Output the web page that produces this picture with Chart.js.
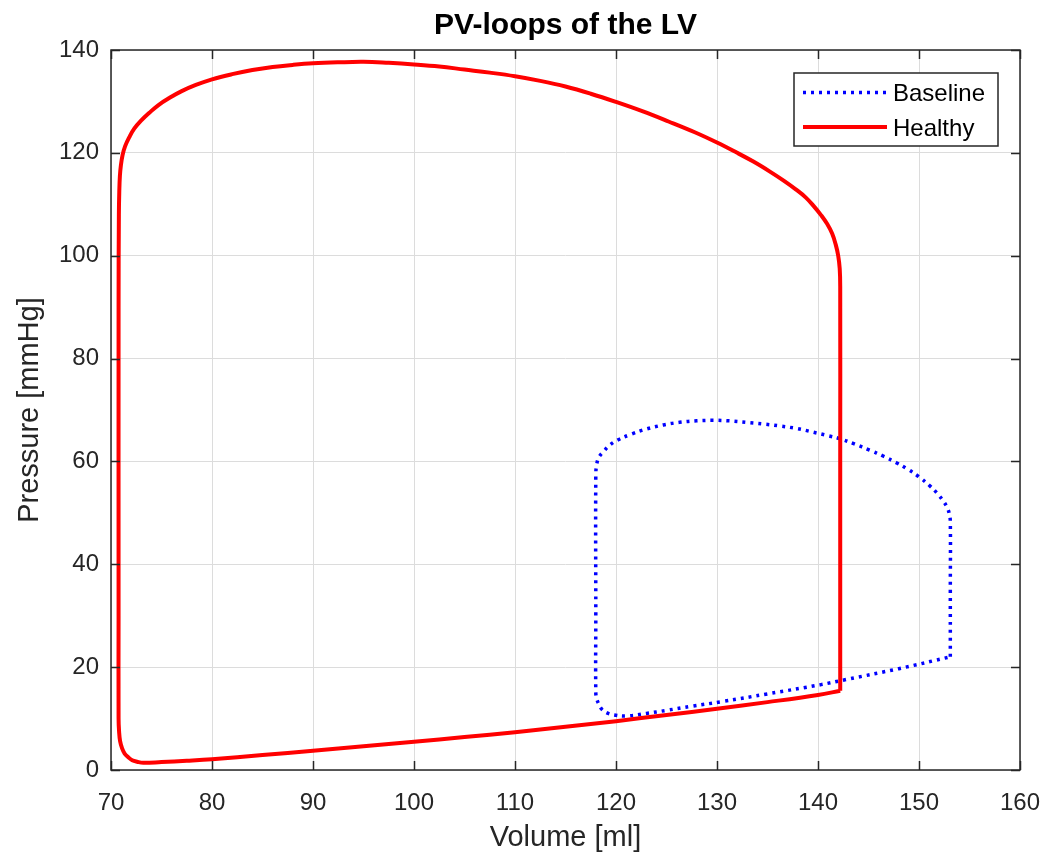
<!DOCTYPE html>
<html>
<head>
<meta charset="utf-8">
<title>PV-loops of the LV</title>
<script src="https://cdn.jsdelivr.net/npm/chart.js@4/dist/chart.umd.min.js"></script>
<style>
  html, body { margin: 0; padding: 0; background: #fff; }
</style>
</head>
<body>
<canvas id="myChart" width="1048" height="856"></canvas>
<script>
// Healthy LV loop, traced from end-diastole up, across ejection, down and along filling
var healthyVolume = [
    142.2, 142.2, 142.2, 142.15, 142.0, 141.75, 141.4, 140.9, 140.3, 139.6,
    138.8, 137.8, 136.6, 135.2, 133.6, 131.9, 130.0, 127.8, 125.2, 122.6,
    120.0, 117.5, 115.0, 112.5, 110.0, 107.5, 105.0, 102.5, 100.0, 97.5,
    95.0, 92.5, 90.0, 88.0, 86.0, 84.0, 82.0, 80.0, 78.4, 77.0,
    75.8, 74.7, 73.8, 73.0, 72.3, 71.8, 71.4, 71.15, 70.98, 70.88,
    70.82, 70.78, 70.75, 70.75, 70.75, 70.8, 70.9, 71.1, 71.35, 71.7,
    72.1, 72.6, 73.2, 75.0, 77.5, 80.0, 85.0, 90.0, 95.0, 100.0,
    105.0, 110.0, 115.0, 120.0, 125.0, 130.0, 135.0, 140.0, 142.2
];
var healthyPressure = [
    15.4, 60.0, 94.0, 97.5, 100.0, 102.2, 104.3, 106.2, 107.9, 109.6,
    111.3, 112.9, 114.6, 116.4, 118.3, 120.1, 122.0, 124.0, 126.1, 128.1,
    129.9, 131.5, 132.9, 134.0, 134.9, 135.6, 136.2, 136.8, 137.2, 137.5,
    137.7, 137.6, 137.4, 137.1, 136.7, 136.1, 135.3, 134.3, 133.2, 132.0,
    130.7, 129.3, 127.8, 126.3, 124.7, 123.0, 121.3, 119.6, 117.6, 115.5,
    112.5, 108.0, 90.0, 30.0, 10.0, 7.5, 5.6, 4.2, 3.2, 2.5,
    1.9, 1.6, 1.4, 1.55, 1.8, 2.1, 2.9, 3.75, 4.6, 5.5,
    6.4, 7.35, 8.4, 9.5, 10.7, 11.9, 13.2, 14.6, 15.4
];

// Baseline loop
var baselineVolume = [
    153.1, 153.1, 153.1, 153.0, 152.8, 152.4, 151.8, 151.1, 150.0, 148.8,
    147.8, 146.5, 145.1, 143.6, 142.2, 141.0, 139.5, 137.9, 136.2, 134.5,
    132.9, 131.2, 129.6, 128.0, 126.3, 124.7, 123.0, 121.5, 120.1, 119.4,
    118.8, 118.3, 118.1, 118.0, 118.0, 118.0, 118.1, 118.3, 118.6, 119.1,
    119.8, 121.0, 123.0, 125.0, 127.5, 130.5, 135.0, 140.3, 142.8, 148.0,
    153.1
];
var baselinePressure = [
    22.0, 35.0, 48.3, 49.8, 51.0, 52.3, 53.8, 55.2, 57.0, 58.6,
    59.7, 61.0, 62.2, 63.4, 64.4, 65.0, 65.7, 66.4, 66.9, 67.3,
    67.6, 67.9, 68.0, 67.9, 67.6, 67.1, 66.3, 65.3, 64.1, 63.2,
    62.0, 60.8, 59.5, 57.5, 30.0, 15.0, 13.8, 12.8, 11.8, 11.1,
    10.7, 10.5, 11.0, 11.6, 12.4, 13.3, 14.8, 16.6, 17.6, 19.7,
    22.0
];

var volumeTicks = { min: 70, max: 160, step: 10 };
var pressureTicks = { min: 0, max: 140, step: 20 };

function toPoints(xs, ys) {
    return xs.map(function (v, i) { return { x: v, y: ys[i] }; });
}

var axisColor = "#262626";
var fontFamily = "'Liberation Sans', Arial, Helvetica, sans-serif";

// box around the axes with inward tick marks on all four sides
var axesBox = {
    id: "axesBox",
    afterDatasetsDraw: function (chart) {
        var ctx = chart.ctx;
        var a = chart.chartArea;
        var xs = chart.scales.x, ys = chart.scales.y;
        var len = 9;
        ctx.save();
        ctx.strokeStyle = axisColor;
        ctx.lineWidth = 1.5;
        ctx.beginPath();
        xs.ticks.forEach(function (t) {
            var px = Math.round(xs.getPixelForValue(t.value)) + 0.5;
            ctx.moveTo(px, a.bottom); ctx.lineTo(px, a.bottom - len);
            ctx.moveTo(px, a.top); ctx.lineTo(px, a.top + len);
        });
        ys.ticks.forEach(function (t) {
            var py = Math.round(ys.getPixelForValue(t.value)) + 0.5;
            ctx.moveTo(a.left, py); ctx.lineTo(a.left + len, py);
            ctx.moveTo(a.right, py); ctx.lineTo(a.right - len, py);
        });
        ctx.stroke();
        ctx.strokeRect(a.left, a.top, a.right - a.left, a.bottom - a.top);
        ctx.restore();
    }
};

// legend in the top right corner of the axes
var boxLegend = {
    id: "boxLegend",
    afterDraw: function (chart) {
        var ctx = chart.ctx;
        var a = chart.chartArea;
        var right = a.right - 22, top = a.top + 23;
        var w = 204, h = 73;
        var left = right - w;
        ctx.save();
        ctx.fillStyle = "#fff";
        ctx.fillRect(left, top, w, h);
        ctx.strokeStyle = axisColor;
        ctx.lineWidth = 1.5;
        ctx.strokeRect(left, top, w, h);
        var items = [chart.data.datasets[1], chart.data.datasets[0]];
        items.forEach(function (ds, i) {
            var y = top + 19.5 + i * 34.5;
            ctx.beginPath();
            ctx.strokeStyle = ds.borderColor;
            ctx.lineWidth = ds.borderWidth;
            ctx.setLineDash(ds.borderDash || []);
            ctx.moveTo(left + 9, y);
            ctx.lineTo(left + 93, y);
            ctx.stroke();
            ctx.setLineDash([]);
            ctx.fillStyle = "#000";
            ctx.font = "24px " + fontFamily;
            ctx.textBaseline = "middle";
            ctx.textAlign = "left";
            ctx.fillText(ds.label, left + 99, y + 2);
        });
        ctx.restore();
    }
};

var ctx = document.getElementById("myChart").getContext("2d");

var myChart = new Chart(ctx, {
    type: "scatter",
    data: {
        datasets: [
            {
                label: "Healthy",
                data: toPoints(healthyVolume, healthyPressure),
                showLine: true,
                borderColor: "#ff0000",
                backgroundColor: "#ff0000",
                borderWidth: 4,
                pointRadius: 0,
                tension: 0.4
            },
            {
                label: "Baseline",
                data: toPoints(baselineVolume, baselinePressure),
                showLine: true,
                borderColor: "#0000ff",
                backgroundColor: "#0000ff",
                borderWidth: 3.5,
                borderDash: [3, 5],
                pointRadius: 0,
                tension: 0.4
            }
        ]
    },
    options: {
        responsive: false,
        animation: false,
        devicePixelRatio: 1,
        layout: { padding: { top: 0, right: 28, left: 0, bottom: 0 } },
        plugins: {
            legend: { display: false },
            tooltip: { enabled: false },
            title: {
                display: true,
                text: "PV-loops of the LV",
                fullSize: false,
                color: "#000",
                font: { family: fontFamily, size: 30, weight: "bold" },
                padding: { top: 8, bottom: 6 }
            }
        },
        scales: {
            x: {
                type: "linear",
                min: volumeTicks.min,
                max: volumeTicks.max,
                afterFit: function (scale) {
                    scale.height = 86;
                    scale.paddingLeft = 0;
                    scale.paddingRight = 0;
                },
                ticks: {
                    stepSize: volumeTicks.step,
                    color: axisColor,
                    padding: 19,
                    font: { family: fontFamily, size: 24 }
                },
                grid: { color: "#dcdcdc", lineWidth: 1, drawTicks: false },
                border: { display: false },
                title: {
                    display: true,
                    text: "Volume [ml]",
                    color: axisColor,
                    font: { family: fontFamily, size: 29 },
                    padding: { top: 0, bottom: 1 }
                }
            },
            y: {
                type: "linear",
                min: pressureTicks.min,
                max: pressureTicks.max,
                afterFit: function (scale) { scale.width = 111; },
                ticks: {
                    stepSize: pressureTicks.step,
                    color: axisColor,
                    padding: 12,
                    font: { family: fontFamily, size: 24 }
                },
                grid: { color: "#dcdcdc", lineWidth: 1, drawTicks: false },
                border: { display: false },
                title: {
                    display: true,
                    text: "Pressure [mmHg]",
                    color: axisColor,
                    font: { family: fontFamily, size: 29 },
                    padding: { top: 13, bottom: 0 }
                }
            }
        }
    },
    plugins: [axesBox, boxLegend]
});
</script>
</body>
</html>
